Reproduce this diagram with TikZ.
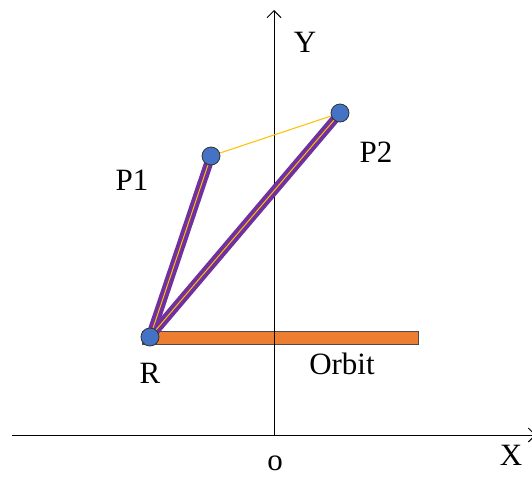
\documentclass[tikz,border=0pt]{standalone}
\usepackage{fontspec}
\setmainfont{Liberation Serif}
\usepackage{xcolor}
\usetikzlibrary{arrows.meta}

\definecolor{linkpurple}{HTML}{7030A0}
\definecolor{linkyellow}{HTML}{FFC000}
\definecolor{jointblue}{HTML}{4472C4}
\definecolor{orbitorange}{HTML}{ED7D31}

\begin{document}
\begin{tikzpicture}[
  x=1pt,y=-1pt,
  lbl/.style={font=\fontsize{31}{36}\selectfont,inner sep=0pt},
  joint/.style={circle,draw=black!80,fill=jointblue,line width=0.8pt,
                minimum size=18pt,inner sep=0pt},
  axis/.style={-{Straight Barb[length=7pt,width=14pt]},line width=1pt},
  link/.style={linkpurple,line width=9pt},
  core/.style={linkyellow,line width=1pt}]

  \useasboundingbox (0,0) rectangle (532,477);

  % orbit
  \node[draw=black!70,fill=orbitorange,line width=0.8pt,inner sep=0pt,
        minimum width=276pt,minimum height=13pt] (orbit) at (280,338) {};

  % axes
  \coordinate (xstart) at (12,435);
  \coordinate (xend)   at (536,435);
  \coordinate (ystart) at (274,435);
  \coordinate (yend)   at (274,10);
  \draw[axis] (xstart) -- (xend);
  \draw[axis] (ystart) -- (yend);

  % joints
  \coordinate (r)  at (150,337);
  \coordinate (p1) at (211,156);
  \coordinate (p2) at (340,113);

  % links
  \draw[link] (r) -- (p1);
  \draw[link] (r) -- (p2);
  \draw[core] (r) -- (p1);
  \draw[core] (r) -- (p2);
  \draw[core] (p1) -- (p2);

  \node[joint] (jr)  at (r)  {};
  \node[joint] (jp1) at (p1) {};
  \node[joint] (jp2) at (p2) {};

  % labels
  \node[lbl] (ly)  at (305,42)  {Y};
  \node[lbl] (lx)  at (511,455) {X};
  \node[lbl] (lo)  at (275,463) {o};
  \node[lbl] (lp1) at (132,180) {P1};
  \node[lbl] (lp2) at (376,152) {P2};
  \node[lbl] (lr)  at (150,373) {R};
  \node[lbl] (lorbit) at (342,364) {Orbit};
\end{tikzpicture}
\end{document}
